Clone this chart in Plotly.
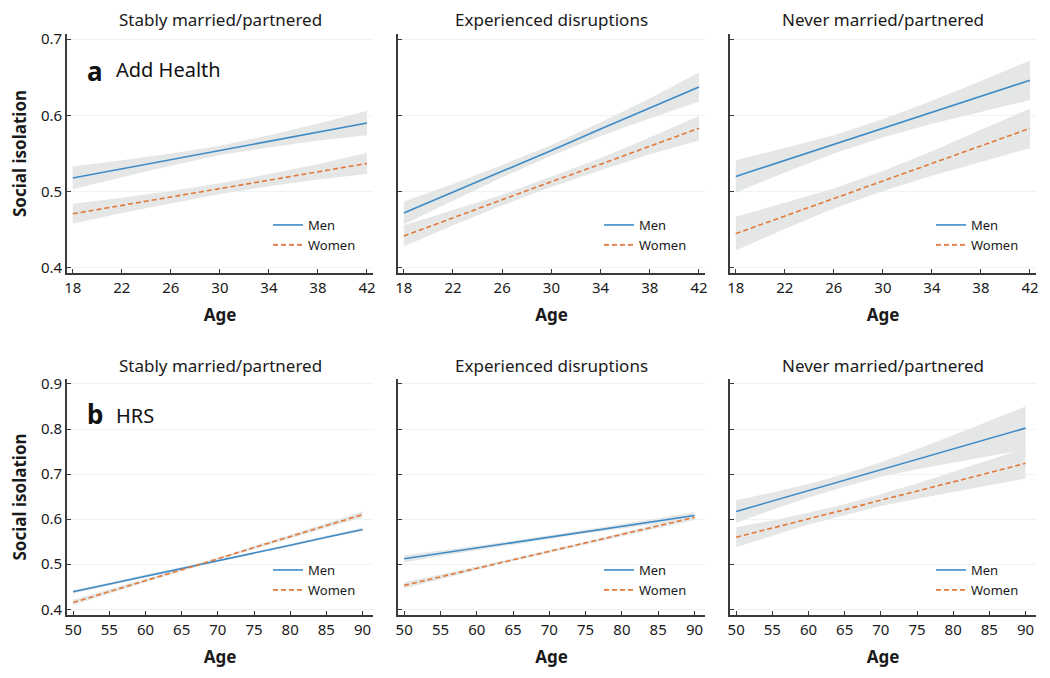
import plotly.graph_objects as go

# ---------------- data ----------------
ages_a = [18, 22, 26, 30, 34, 38, 42]
ages_b = [50, 55, 60, 65, 70, 75, 80, 85, 90]

panel_titles = ["Stably married/partnered", "Experienced disruptions", "Never married/partnered"]

# Add Health (a)
a_men_fit = [
    [0.518, 0.530, 0.542, 0.554, 0.566, 0.578, 0.590],
    [0.472, 0.499, 0.527, 0.554, 0.582, 0.609, 0.637],
    [0.520, 0.541, 0.562, 0.583, 0.604, 0.625, 0.646],
]
a_men_lo = [
    [0.503, 0.519, 0.534, 0.548, 0.558, 0.567, 0.574],
    [0.457, 0.488, 0.519, 0.547, 0.573, 0.596, 0.618],
    [0.499, 0.525, 0.550, 0.571, 0.589, 0.605, 0.620],
]
a_men_hi = [
    [0.533, 0.541, 0.550, 0.560, 0.574, 0.589, 0.606],
    [0.487, 0.510, 0.535, 0.561, 0.591, 0.622, 0.656],
    [0.541, 0.557, 0.574, 0.595, 0.619, 0.645, 0.672],
]
a_wom_fit = [
    [0.471, 0.482, 0.493, 0.504, 0.515, 0.526, 0.537],
    [0.442, 0.466, 0.489, 0.513, 0.536, 0.560, 0.583],
    [0.445, 0.468, 0.491, 0.514, 0.537, 0.560, 0.583],
]
a_wom_lo = [
    [0.458, 0.472, 0.485, 0.497, 0.507, 0.516, 0.523],
    [0.428, 0.456, 0.482, 0.506, 0.528, 0.549, 0.567],
    [0.423, 0.451, 0.478, 0.501, 0.521, 0.539, 0.557],
]
a_wom_hi = [
    [0.484, 0.492, 0.501, 0.511, 0.523, 0.536, 0.551],
    [0.456, 0.476, 0.496, 0.520, 0.544, 0.571, 0.599],
    [0.467, 0.485, 0.504, 0.527, 0.553, 0.581, 0.609],
]

# HRS (b)
b_men_fit = [
    [0.439, 0.456, 0.474, 0.491, 0.508, 0.525, 0.542, 0.560, 0.577],
    [0.512, 0.524, 0.536, 0.548, 0.560, 0.572, 0.584, 0.596, 0.608],
    [0.617, 0.640, 0.663, 0.686, 0.710, 0.733, 0.756, 0.779, 0.802],
]
b_men_lo = [
    [0.435, 0.453, 0.471, 0.489, 0.506, 0.523, 0.539, 0.557, 0.573],
    [0.504, 0.518, 0.531, 0.544, 0.556, 0.568, 0.579, 0.590, 0.600],
    [0.592, 0.621, 0.648, 0.672, 0.694, 0.711, 0.726, 0.740, 0.754],
]
b_men_hi = [
    [0.443, 0.459, 0.477, 0.493, 0.510, 0.527, 0.545, 0.563, 0.581],
    [0.520, 0.530, 0.541, 0.552, 0.564, 0.576, 0.589, 0.602, 0.616],
    [0.642, 0.659, 0.678, 0.700, 0.726, 0.755, 0.786, 0.818, 0.850],
]
b_wom_fit = [
    [0.415, 0.439, 0.464, 0.488, 0.512, 0.537, 0.561, 0.586, 0.610],
    [0.453, 0.472, 0.491, 0.510, 0.528, 0.547, 0.566, 0.585, 0.604],
    [0.560, 0.580, 0.601, 0.621, 0.642, 0.662, 0.683, 0.703, 0.724],
]
b_wom_lo = [
    [0.409, 0.434, 0.460, 0.485, 0.509, 0.534, 0.557, 0.581, 0.603],
    [0.446, 0.467, 0.487, 0.507, 0.525, 0.544, 0.562, 0.580, 0.598],
    [0.538, 0.563, 0.588, 0.609, 0.629, 0.645, 0.661, 0.675, 0.690],
]
b_wom_hi = [
    [0.421, 0.444, 0.468, 0.491, 0.515, 0.540, 0.565, 0.591, 0.617],
    [0.460, 0.477, 0.495, 0.513, 0.531, 0.550, 0.570, 0.590, 0.610],
    [0.582, 0.597, 0.614, 0.633, 0.655, 0.679, 0.705, 0.731, 0.758],
]

a_xticks = [18, 22, 26, 30, 34, 38, 42]
b_xticks = [50, 55, 60, 65, 70, 75, 80, 85, 90]
a_yticks = [0.4, 0.5, 0.6, 0.7]
b_yticks = [0.4, 0.5, 0.6, 0.7, 0.8, 0.9]

# ---------------- style ----------------
OFF = 8                     # page body margin
W, H = 1050 - OFF, 678 - OFF
FONT = "Noto Sans"
MEN_C = "#3d8bc7"
WOM_C = "#e2793a"
BAND_C = "#e5e6e6"
AX_C = "#3a3a3a"
GRID_C = "#eef3f4"

# page-pixel positions
xdom_px = [(67, 373), (398, 705), (730, 1036)]
ydom_px = [(34, 273), (379, 615)]

def px_x(p):
    return (p - OFF) / W

def px_y(p):
    return 1 - (p - OFF) / H

def xd(p):
    return [px_x(p[0]), px_x(p[1])]

def yd(p):
    return [px_y(p[1]), px_y(p[0])]

fig = go.Figure()

rows = [
    dict(ages=ages_a, mf=a_men_fit, ml=a_men_lo, mh=a_men_hi,
         wf=a_wom_fit, wl=a_wom_lo, wh=a_wom_hi,
         xr=[17.53, 42.49], yr=[0.3934, 0.7066], xt=a_xticks, yt=a_yticks),
    dict(ages=ages_b, mf=b_men_fit, ml=b_men_lo, mh=b_men_hi,
         wf=b_wom_fit, wl=b_wom_lo, wh=b_wom_hi,
         xr=[49.15, 91.45], yr=[0.3873, 0.911], xt=b_xticks, yt=b_yticks),
]

legend_top_px = {0: 210, 1: 555}

k = 0
annotations = []
for r, R in enumerate(rows):
    for c in range(3):
        k += 1
        xa = "x" if k == 1 else f"x{k}"
        ya = "y" if k == 1 else f"y{k}"
        lg = "legend" if k == 1 else f"legend{k}"
        ages = R["ages"]
        # bands
        for lo, hi in ((R["ml"][c], R["mh"][c]), (R["wl"][c], R["wh"][c])):
            fig.add_trace(go.Scatter(
                x=ages + ages[::-1], y=hi + lo[::-1], fill="toself",
                fillcolor=BAND_C, line=dict(width=0), mode="lines",
                hoverinfo="skip", showlegend=False, xaxis=xa, yaxis=ya))
        fig.add_trace(go.Scatter(
            x=ages, y=R["mf"][c], mode="lines", name="Men",
            line=dict(color=MEN_C, width=1.6), xaxis=xa, yaxis=ya, legend=lg))
        fig.add_trace(go.Scatter(
            x=ages, y=R["wf"][c], mode="lines", name="Women",
            line=dict(color=WOM_C, width=1.6, dash="5px,3px"),
            xaxis=xa, yaxis=ya, legend=lg))

        axis_common = dict(
            showline=True, linecolor=AX_C, linewidth=1.6, mirror=False,
            ticks="inside", ticklen=4, tickwidth=1.2, tickcolor=AX_C,
            zeroline=False, automargin=False,
            tickfont=dict(family=FONT, size=15, color="#1a1a1a"),
        )
        xkey = "xaxis" if k == 1 else f"xaxis{k}"
        ykey = "yaxis" if k == 1 else f"yaxis{k}"
        fig.layout[xkey] = dict(
            axis_common, domain=xd(xdom_px[c]), anchor=ya, range=R["xr"],
            tickvals=R["xt"], showgrid=False,
            title=dict(text="<b>Age</b>", font=dict(family=FONT, size=17, color="#1a1a1a"), standoff=13),
        )
        ydict = dict(
            axis_common, domain=yd(ydom_px[r]), anchor=xa, range=R["yr"],
            tickvals=R["yt"], showgrid=True, gridcolor=GRID_C, gridwidth=1,
            showticklabels=(c == 0), tickformat=".1f",
        )
        if c == 0:
            ydict["title"] = dict(text="<b>Social isolation</b>",
                                  font=dict(family=FONT, size=17, color="#1a1a1a"), standoff=14)
        fig.layout[ykey] = ydict

        # legend inside each panel
        fig.layout[lg] = dict(
            x=px_x(xdom_px[c][0] + 201), y=px_y(legend_top_px[r]),
            xanchor="left", yanchor="top", bgcolor="rgba(0,0,0,0)",
            font=dict(family=FONT, size=13, color="#1a1a1a"),
            tracegroupgap=0, itemwidth=30,
        )

        # panel title
        cx = px_x((xdom_px[c][0] + xdom_px[c][1]) / 2)
        ty = px_y(20 if r == 0 else 365)
        annotations.append(dict(
            text=panel_titles[c], x=cx, y=ty, xref="paper", yref="paper",
            showarrow=False, xanchor="center", yanchor="middle",
            font=dict(family=FONT, size=17, color="#1a1a1a")))

# panel letters
annotations.append(dict(text="<b>a</b>", x=px_x(85), y=px_y(71), xref="paper", yref="paper",
                        showarrow=False, xanchor="left", yanchor="middle",
                        font=dict(family=FONT, size=26, color="#111")))
annotations.append(dict(text="Add Health", x=px_x(114), y=px_y(70), xref="paper", yref="paper",
                        showarrow=False, xanchor="left", yanchor="middle",
                        font=dict(family=FONT, size=20, color="#111")))
annotations.append(dict(text="<b>b</b>", x=px_x(85), y=px_y(414), xref="paper", yref="paper",
                        showarrow=False, xanchor="left", yanchor="middle",
                        font=dict(family=FONT, size=26, color="#111")))
annotations.append(dict(text="HRS", x=px_x(114), y=px_y(415), xref="paper", yref="paper",
                        showarrow=False, xanchor="left", yanchor="middle",
                        font=dict(family=FONT, size=20, color="#111")))

fig.update_layout(
    width=W, height=H, margin=dict(l=0, r=0, t=0, b=0),
    paper_bgcolor="white", plot_bgcolor="white",
    annotations=annotations, font=dict(family=FONT),
)

fig.write_html("out.html")
